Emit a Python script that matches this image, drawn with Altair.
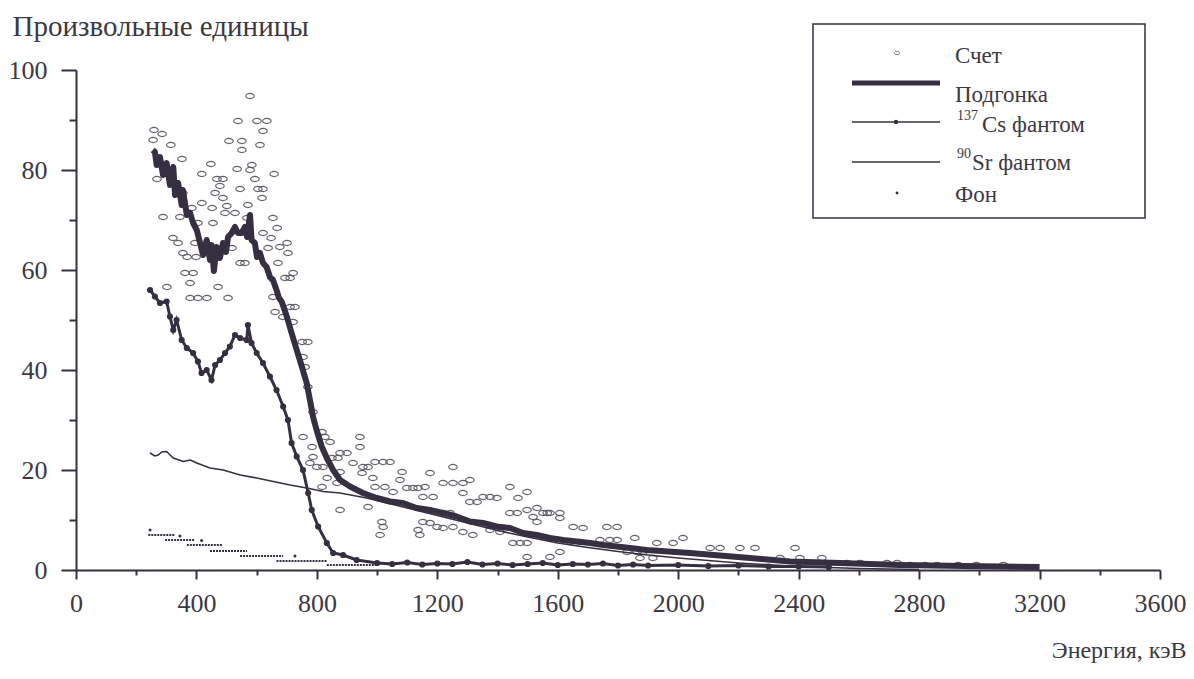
import altair as alt
import pandas as pd

INK = "#362f42"
TXT = "#3d3943"
CIRC = "#54505c"
FONT = "Liberation Serif"
ELLIPSE = "M -1 0 A 1 0.6 0 1 0 1 0 A 1 0.6 0 1 0 -1 0 Z"

# ---- Счет (counts), keV / arbitrary units ----
cnt_e = [259, 286, 256, 315, 352, 269, 289, 322, 339, 345,
         355, 302, 362, 369, 379, 389, 399, 355, 385, 395,
         405, 418, 418, 405, 379, 435, 448, 452, 455, 462,
         468, 472, 478, 488, 488, 495, 501, 505, 508, 518,
         528, 535, 538, 545, 545, 551, 551, 561, 568, 571,
         578, 578, 584, 594, 601, 604, 611, 618, 621, 621,
         621, 634, 638, 648, 654, 654, 658, 661, 668, 671,
         677, 687, 694, 711, 701, 704, 711, 721, 721, 727,
         751, 770, 754, 754, 761, 770, 777, 784, 787, 787,
         800, 817, 817, 820, 827, 834, 844, 850, 867, 870,
         877, 877, 877, 900, 920, 943, 943, 950, 953, 970,
         970, 986, 993, 993, 1010, 1016, 1020, 1020, 1026, 1043,
         1053, 1076, 1083, 1099, 1119, 1136, 1136, 1142, 1152, 1152,
         1159, 1176, 1176, 1186, 1199, 1219, 1219, 1219, 1242, 1252,
         1252, 1252, 1285, 1285, 1285, 1308, 1308, 1318, 1332, 1352,
         1375, 1375, 1398, 1408, 1441, 1441, 1451, 1465, 1468, 1475,
         1498, 1498, 1498, 1498, 1518, 1531, 1531, 1551, 1565, 1574,
         1574, 1607, 1607, 1607, 1641, 1651, 1674, 1684, 1740, 1763,
         1773, 1797, 1797, 1830, 1856, 1863, 1873, 1883, 1916, 1929,
         1983, 2016, 2106, 2139, 2205, 2255, 2338, 2388, 2404, 2477,
         2561, 2604, 2693, 2727, 2770, 2820, 2860, 2930, 2990, 3080]
cnt_v = [88.0, 87.2, 86.0, 85.0, 82.2, 78.2, 70.6, 66.4, 65.4, 70.6,
         75.4, 56.6, 59.4, 62.6, 57.4, 59.4, 62.6, 63.4, 72.4, 65.4,
         69.4, 79.2, 73.4, 54.4, 54.4, 54.4, 81.2, 72.4, 69.4, 75.4,
         78.2, 56.6, 76.8, 78.2, 74.4, 71.4, 72.8, 54.4, 85.8, 64.4,
         71.4, 80.2, 89.8, 76.2, 61.4, 85.8, 84.0, 61.4, 70.4, 73.0,
         94.8, 80.0, 81.0, 78.2, 89.8, 76.2, 85.0, 74.4, 87.8, 76.2,
         67.4, 89.8, 64.4, 66.4, 70.4, 54.6, 79.2, 51.6, 68.4, 61.4,
         64.6, 50.6, 58.4, 58.4, 65.4, 63.4, 52.6, 59.4, 49.6, 52.6,
         45.6, 45.6, 42.6, 26.6, 40.6, 36.6, 21.4, 24.6, 31.6, 22.6,
         20.6, 27.6, 16.6, 20.6, 26.6, 18.4, 25.6, 22.4, 17.4, 22.4,
         23.4, 19.6, 12.0, 23.4, 21.4, 26.6, 24.6, 19.4, 20.6, 20.6,
         12.6, 18.4, 21.6, 16.6, 7.0, 9.6, 21.6, 8.6, 16.6, 21.6,
         15.6, 18.0, 19.6, 16.4, 16.4, 16.4, 8.0, 7.0, 14.6, 9.6,
         16.6, 19.4, 9.4, 14.6, 8.6, 17.4, 11.4, 8.4, 11.4, 20.6,
         17.4, 8.6, 17.4, 15.4, 7.6, 18.0, 13.6, 7.0, 13.6, 14.6,
         14.6, 8.0, 14.4, 7.6, 16.6, 11.4, 5.4, 11.4, 14.4, 5.4,
         15.6, 12.0, 5.4, 2.6, 10.6, 9.6, 12.4, 11.4, 11.4, 11.4,
         2.6, 11.4, 10.4, 3.6, 5.6, 8.6, 5.6, 8.4, 6.0, 8.6,
         6.0, 8.6, 6.0, 3.6, 6.4, 3.6, 2.4, 3.6, 2.4, 5.4,
         5.4, 6.4, 4.4, 4.4, 4.4, 4.4, 2.4, 4.4, 2.4, 2.4,
         1.4, 1.4, 1.4, 1.4, 1.0, 1.0, 1.0, 1.0, 1.0, 1.0]

# ---- Подгонка (fit) ----
fit_e = [255, 262, 268, 279, 289, 301, 312, 323, 329, 339,
         351, 355, 368, 379, 389, 401, 412, 422, 434, 445,
         450, 458, 467, 478, 488, 498, 505, 517, 528, 538,
         550, 561, 568, 578, 583, 594, 601, 611, 621, 633,
         644, 654, 666, 674, 683, 700, 716, 733, 750, 766,
         777, 787, 799, 816, 833, 854, 877, 910, 953, 999,
         1043, 1086, 1131, 1176, 1219, 1264, 1308, 1352, 1397, 1441,
         1485, 1530, 1574, 1618, 1663, 1707, 1751, 1796, 1840, 1895,
         2039, 2238, 2371, 2537, 2737, 2950, 3200]
fit_v = [84.0, 83.6, 81.0, 82.6, 79.0, 81.4, 77.0, 80.6, 75.0, 77.4,
         73.0, 76.0, 71.0, 71.4, 69.4, 68.0, 65.4, 63.0, 66.0, 62.0,
         65.0, 59.8, 64.6, 62.4, 65.4, 63.6, 66.6, 67.4, 68.6, 67.4,
         67.4, 68.6, 66.6, 71.0, 66.0, 65.4, 62.6, 63.4, 61.4, 60.6,
         58.6, 58.0, 56.0, 54.4, 53.7, 50.7, 47.4, 44.0, 40.7, 37.4,
         34.0, 30.7, 28.0, 24.7, 22.4, 20.0, 18.0, 16.7, 15.4, 14.4,
         13.7, 13.4, 12.4, 12.0, 11.4, 10.7, 9.7, 9.4, 8.7, 8.4,
         7.4, 7.0, 6.4, 6.0, 5.7, 5.4, 5.0, 4.7, 4.4, 4.0,
         3.4, 2.4, 1.7, 1.4, 1.0, 0.8, 0.6]

# ---- 137Cs фантом ----
cs_e = [246, 262, 279, 301, 312, 323, 334, 351, 368, 389,
        405, 417, 434, 450, 462, 478, 495, 511, 528, 545,
        567, 571, 583, 600, 621, 644, 666, 688, 704, 716,
        733, 754, 771, 783, 804, 833, 854, 887, 932, 1000,
        1050, 1100, 1150, 1200, 1250, 1300, 1350, 1400, 1450, 1500,
        1550, 1600, 1650, 1700, 1750, 1800, 1850, 1900, 2000, 2100,
        2200, 2300, 2400, 2500]
cs_v = [56.0, 54.7, 53.4, 53.7, 50.7, 48.0, 50.0, 46.0, 44.4, 43.4,
        41.7, 39.4, 40.0, 38.0, 41.0, 42.0, 43.4, 44.7, 47.0, 46.4,
        46.0, 49.0, 45.4, 43.4, 41.4, 38.7, 36.0, 32.7, 30.0, 25.4,
        22.7, 20.0, 15.4, 12.0, 8.7, 5.4, 3.4, 3.0, 2.0, 1.4,
        1.2, 1.5, 1.1, 1.3, 1.2, 1.6, 1.1, 1.3, 1.0, 1.2,
        1.4, 1.0, 1.2, 1.1, 1.3, 0.9, 1.1, 0.9, 1.0, 0.8,
        0.9, 0.7, 0.7, 0.6]

# ---- 90Sr фантом ----
sr_e = [246, 262, 273, 285, 301, 323, 356, 380, 401, 445,
        489, 545, 600, 655, 711, 766, 821, 877, 965, 1100,
        1200, 1300, 1400, 1500, 1600, 1700, 1800, 1900, 2000, 2200,
        2400, 2600, 2800]
sr_v = [23.4, 22.8, 23.0, 23.6, 23.7, 22.4, 21.7, 22.0, 21.4, 20.4,
        20.0, 19.0, 18.4, 17.7, 17.0, 16.4, 15.7, 15.4, 14.4, 12.4,
        10.9, 9.4, 7.9, 6.6, 5.4, 4.5, 3.7, 3.0, 2.4, 1.4,
        0.7, 0.3, 0.1]

# ---- Фон (background): stepped runs of dots and single dots ----
bg_start = [240, 296, 368, 445, 545, 666, 833]
bg_end = [329, 395, 485, 568, 688, 833, 1000]
bg_level = [7.0, 6.0, 5.0, 3.8, 2.8, 1.8, 1.0]
bgdot_e = [246, 345, 417, 727]
bgdot_v = [8.0, 6.8, 5.9, 2.8]

x_scale = alt.Scale(domain=[0, 3600], nice=False, zero=False)
y_scale = alt.Scale(domain=[0, 100], nice=False)

x_axis = alt.Axis(
    values=list(range(0, 3601, 200)), format="d",
    labelExpr="datum.value % 400 === 0 ? datum.label : ''",
    tickSize={"condition": {"test": "datum.value % 400 === 0", "value": 9}, "value": 5},
    labelPadding=11, labelFlush=False, labelOverlap=False, grid=False,
    title="Энергия, кэВ", titleX=1110, titleY=87, titleAlign="right",
    titleBaseline="alphabetic", titleAngle=0, titleFontSize=24,
)
y_axis = alt.Axis(
    values=list(range(0, 101, 10)), format="d",
    labelExpr="datum.value % 20 === 0 ? datum.label : ''",
    tickSize={"condition": {"test": "datum.value % 20 === 0", "value": 15}, "value": 7},
    labelPadding=14, labelFlush=False, labelOverlap=False, grid=False,
    title="Произвольные единицы", titleX=-64, titleY=-35, titleAlign="left",
    titleBaseline="alphabetic", titleAngle=0, titleFontSize=29,
)

X = alt.X("e:Q", scale=x_scale, axis=x_axis)
Y = alt.Y("v:Q", scale=y_scale, axis=y_axis)

counts = alt.Chart(pd.DataFrame({"e": cnt_e, "v": cnt_v})).mark_point(
    shape=ELLIPSE, size=72, filled=False, stroke=CIRC, strokeWidth=1.2, opacity=0.9
).encode(x=X, y=Y)

sr = alt.Chart(pd.DataFrame({"e": sr_e, "v": sr_v})).mark_line(
    color=INK, strokeWidth=1.6
).encode(x=X, y=Y)

bg_runs = alt.Chart(pd.DataFrame({"e": bg_start, "e2": bg_end, "v": bg_level})).mark_rule(
    color=INK, strokeWidth=1.8, strokeDash=[2, 1]
).encode(x=X, x2="e2:Q", y=Y)

bg_dots = alt.Chart(pd.DataFrame({"e": bgdot_e, "v": bgdot_v})).mark_point(
    filled=True, size=9, color=INK, opacity=1
).encode(x=X, y=Y)

cs = alt.Chart(pd.DataFrame({"e": cs_e, "v": cs_v})).mark_line(
    color=INK, strokeWidth=3,
    point=alt.OverlayMarkDef(filled=True, size=38, color=INK, opacity=1),
).encode(x=X, y=Y)

fit = alt.Chart(pd.DataFrame({"e": fit_e, "v": fit_v})).mark_line(
    color=INK, strokeWidth=6, strokeJoin="round"
).encode(x=X, y=Y)

# ---- legend (drawn box) ----
one = pd.DataFrame({"k": [0]})
leg_box = alt.Chart(one).mark_rect(fill="white", stroke=INK, strokeWidth=1.5).encode(
    x=alt.value(737), x2=alt.value(1069), y=alt.value(-46), y2=alt.value(148))


def leg_text(txt, x, y, size=23):
    return alt.Chart(one).mark_text(
        align="left", baseline="alphabetic", font=FONT, fontSize=size, color=TXT
    ).encode(x=alt.value(x), y=alt.value(y), text=alt.value(txt))


leg_cnt = alt.Chart(one).mark_point(shape=ELLIPSE, size=30, filled=False, stroke=CIRC,
                                    strokeWidth=1).encode(x=alt.value(821), y=alt.value(-17))
leg_fit = alt.Chart(one).mark_rule(color=INK, strokeWidth=5).encode(
    x=alt.value(776), x2=alt.value(864), y=alt.value(13))
leg_cs = alt.Chart(one).mark_rule(color=INK, strokeWidth=1.5).encode(
    x=alt.value(776), x2=alt.value(864), y=alt.value(52))
leg_cs_dot = alt.Chart(one).mark_point(filled=True, size=20, color=INK, opacity=1).encode(
    x=alt.value(820), y=alt.value(52))
leg_sr = alt.Chart(one).mark_rule(color=INK, strokeWidth=1.4).encode(
    x=alt.value(776), x2=alt.value(864), y=alt.value(92))
leg_bg = alt.Chart(one).mark_point(filled=True, size=8, color=INK, opacity=1).encode(
    x=alt.value(821), y=alt.value(123))

legend = [
    leg_box, leg_cnt, leg_fit, leg_cs, leg_cs_dot, leg_sr, leg_bg,
    leg_text("Счет", 879, -7),
    leg_text("Подгонка", 879, 32),
    leg_text("137", 881, 50, 14),
    leg_text("Cs фантом", 906, 62),
    leg_text("90", 881, 88, 14),
    leg_text("Sr фантом", 896, 100),
    leg_text("Фон", 879, 132),
]

chart = alt.layer(counts, sr, bg_runs, bg_dots, cs, fit, *legend).properties(
    width=1084, height=500,
    padding={"left": 68, "top": 62, "right": 26, "bottom": 95},
    autosize=alt.AutoSizeParams(type="none"),
    background="white",
).configure_view(stroke=None).configure_axis(
    domainColor=INK, domainWidth=2, tickColor=INK, tickWidth=2,
    labelFont=FONT, labelFontSize=26, labelColor=TXT,
    titleFont=FONT, titleFontWeight="normal", titleColor=TXT,
)

chart.save("out.html", embed_options={"renderer": "svg", "actions": False})
